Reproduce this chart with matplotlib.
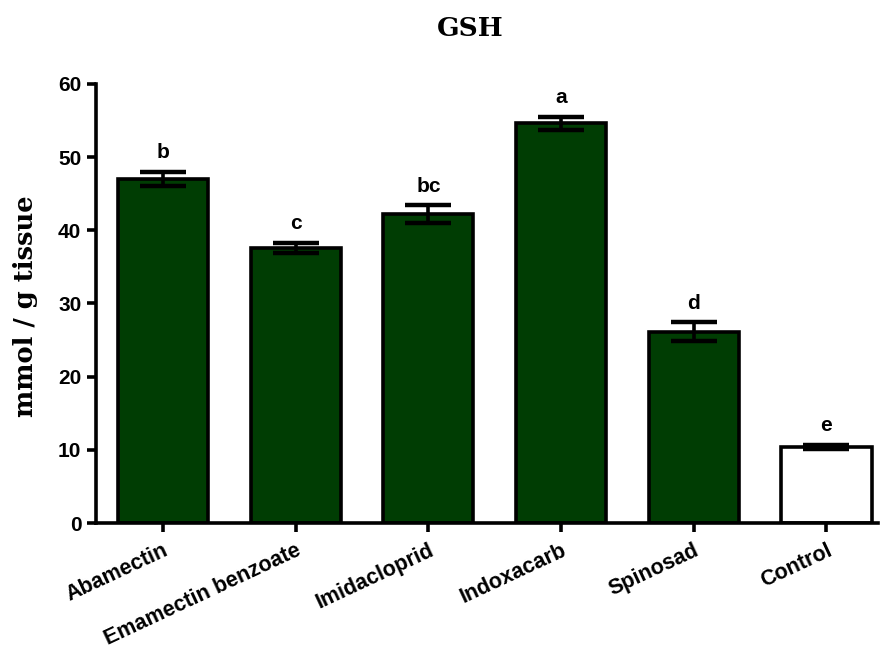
import matplotlib
matplotlib.use("Agg")
import matplotlib.pyplot as plt

categories = ["Abamectin", "Emamectin benzoate", "Imidacloprid", "Indoxacarb", "Spinosad", "Control"]
values = [47.0, 37.6, 42.2, 54.6, 26.1, 10.4]
errors = [1.0, 0.7, 1.2, 0.9, 1.3, 0.3]
letters = ["b", "c", "bc", "a", "d", "e"]
colors = ["#003d03", "#003d03", "#003d03", "#003d03", "#003d03", "#ffffff"]

fig = plt.figure(figsize=(8.8, 6.55), dpi=100)
ax = fig.add_axes([0.109, 0.2015, 0.889, 0.6705])

x = list(range(len(categories)))
ax.bar(x, values, width=0.68, color=colors, edgecolor="black", linewidth=2.6, zorder=2)
ax.errorbar(x, values, yerr=errors, fmt="none", ecolor="black", elinewidth=2.6,
            capsize=16.5, capthick=3.2, zorder=3)
for xi, v, e, t in zip(x, values, errors, letters):
    ax.annotate(t, (xi, v + e), xytext=(0, 7), textcoords="offset points",
                ha="center", va="bottom", fontsize=15, fontweight="bold",
                family="Liberation Sans")

ax.set_xlim(-0.505, 5.39)
ax.set_ylim(0, 60)
ax.set_yticks([0, 10, 20, 30, 40, 50, 60])
ax.set_xticks(x)
ax.set_xticklabels(categories, rotation=25, ha="right", rotation_mode="anchor",
                   fontsize=15.5, fontweight="bold", family="Liberation Sans")
for lab in ax.get_yticklabels():
    lab.set_fontsize(15)
    lab.set_fontweight("bold")
    lab.set_family("Liberation Sans")

for s in ["top", "right"]:
    ax.spines[s].set_visible(False)
for s in ["left", "bottom"]:
    ax.spines[s].set_linewidth(2.6)
ax.tick_params(axis="both", direction="out", length=6.5, width=2.6, pad=4)
ax.tick_params(axis="x", pad=6)

fig.text(25 / 880, 1 - 306 / 655, "mmol / g tissue", rotation=90, ha="center", va="center",
         fontsize=18.5, fontweight="bold", family="DejaVu Serif")
fig.text(470 / 880, 1 - 29 / 655, "GSH", ha="center", va="center", fontsize=19,
         fontweight="bold", family="DejaVu Serif")

fig.savefig("out.png", dpi=100)
